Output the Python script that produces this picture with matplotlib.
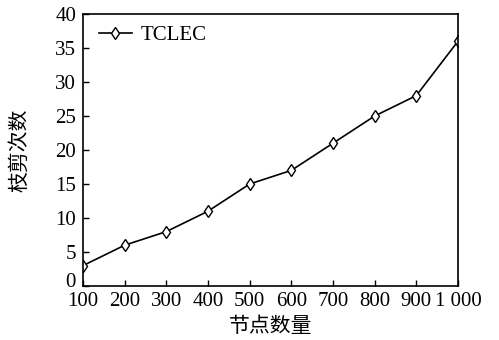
import matplotlib
matplotlib.use("Agg")
import matplotlib.pyplot as plt
from matplotlib.transforms import ScaledTranslation

node_counts = [100, 200, 300, 400, 500, 600, 700, 800, 900, 1000]
prune_counts = [3, 6, 8, 11, 15, 17, 21, 25, 28, 36]
x_tick_labels = ["100", "200", "300", "400", "500", "600", "700", "800", "900", "1 000"]
y_ticks = [0, 5, 10, 15, 20, 25, 30, 35, 40]

serif = ["Liberation Serif", "DejaVu Serif"]
cjk = ["Noto Sans CJK SC", "DejaVu Sans"]

fig = plt.figure(figsize=(4.99, 3.40), dpi=100)
ax = fig.add_axes([0.1663, 0.1588, 0.7515, 0.8000])

ax.plot(node_counts, prune_counts, color="black", linewidth=1.2,
        marker="d", markersize=6.5, markerfacecolor="white",
        markeredgecolor="black", markeredgewidth=1.0, label="TCLEC")

ax.set_xlim(100, 1000)
ax.set_ylim(0, 40)
ax.set_xticks(node_counts)
ax.set_xticklabels(x_tick_labels, fontfamily=serif, fontsize=15)
ax.set_yticks(y_ticks)
ax.set_yticklabels([str(v) for v in y_ticks], fontfamily=serif, fontsize=15)
ax.tick_params(axis="x", direction="in", length=4, width=1.0, top=False, pad=4)
ax.tick_params(axis="y", direction="in", length=4, width=1.0, right=False, pad=5)
for spine in ax.spines.values():
    spine.set_linewidth(1.2)

# lift the "0" label a little so it clears the first x label
zero_label = ax.get_yticklabels()[0]
zero_label.set_transform(zero_label.get_transform()
                         + ScaledTranslation(0, 6 / 100, fig.dpi_scale_trans))

ax.set_xlabel("节点数量", fontfamily=cjk, fontsize=15, labelpad=3)
ax.set_ylabel("枝剪次数", fontfamily=cjk, fontsize=15, labelpad=18)

leg = ax.legend(loc="upper left", bbox_to_anchor=(0.0, 1.015), frameon=False,
                prop={"family": serif, "size": 15},
                handlelength=1.6, handletextpad=0.4, borderaxespad=0.35)

fig.savefig("out.png", dpi=100)
